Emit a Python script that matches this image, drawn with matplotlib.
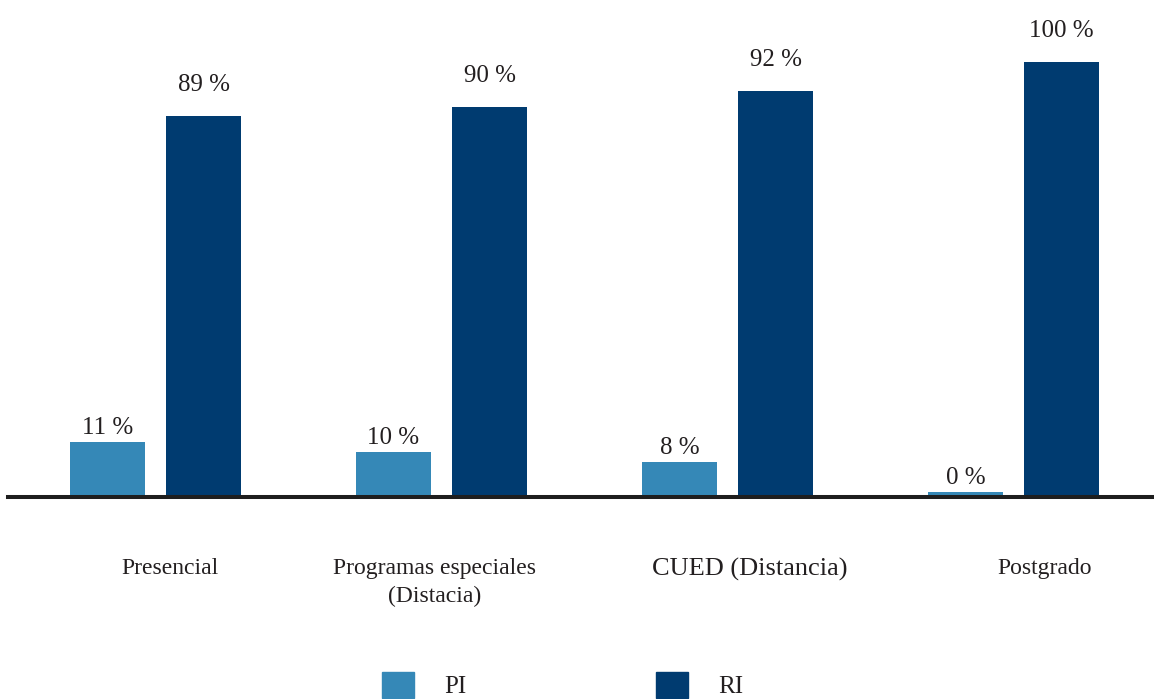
import matplotlib
matplotlib.use('Agg')
import matplotlib.pyplot as plt
from matplotlib.patches import Patch
import numpy as np

# Data
categories = ['Presencial', 'Programas especiales\n(Distacia)',
              'CUED (Distancia)', 'Postgrado']
pi_values = [12.6, 10.3, 8.0, 1.1]
ri_values = [87.6, 89.7, 93.3, 100.0]
pi_labels = ['11 %', '10 %', '8 %', '0 %']
ri_labels = ['89 %', '90 %', '92 %', '100 %']

PI_COLOR = '#3588b7'
RI_COLOR = '#003b70'
TEXT_COLOR = '#231f20'

plt.rcParams['font.family'] = ['Liberation Serif', 'DejaVu Serif']


def main():
    """Draw the grouped bar chart and save it to out.png."""
    fig = plt.figure(figsize=(11.54, 6.99), dpi=100)
    ax = fig.add_axes([8 / 1154, 202 / 699, 1 - 8 / 1154, 497 / 699])

    x = np.arange(len(categories))
    offset = 0.168
    width = 0.262

    bars_pi = ax.bar(x - offset, pi_values, width, color=PI_COLOR)
    bars_ri = ax.bar(x + offset, ri_values, width, color=RI_COLOR)

    # Value labels above the bars.
    for rect, lab in zip(bars_pi, pi_labels):
        ax.annotate(lab, (rect.get_x() + rect.get_width() / 2, rect.get_height()),
                    xytext=(0, 6), textcoords='offset points',
                    ha='center', va='baseline', fontsize=18, color=TEXT_COLOR)
    for rect, lab in zip(bars_ri, ri_labels):
        ax.annotate(lab, (rect.get_x() + rect.get_width() / 2, rect.get_height()),
                    xytext=(0, 18), textcoords='offset points',
                    ha='center', va='baseline', fontsize=18, color=TEXT_COLOR)

    ax.set_xlim(-0.516, 3.491)
    ax.set_ylim(0, 497 / 4.35)

    # Category labels sit a bit right of the group centres in the original.
    label_shift = [0.05, -0.023, 0.079, 0.107]
    ax.set_xticks(x + np.array(label_shift))
    ax.set_xticklabels(categories, fontsize=17, color=TEXT_COLOR,
                       linespacing=1.4)
    ax.tick_params(axis='x', length=0, pad=44)
    ax.get_xticklabels()[2].set_fontsize(19)
    ax.set_yticks([])

    for side in ['top', 'right', 'left']:
        ax.spines[side].set_visible(False)
    ax.spines['bottom'].set_linewidth(2.9)
    ax.spines['bottom'].set_color('#1e1e1e')

    handles = [Patch(color=PI_COLOR, label='PI'),
               Patch(color=RI_COLOR, label='RI')]
    fig.legend(handles=handles, loc='upper left',
               bbox_to_anchor=(381.5 / 1154, 27.5 / 699),
               ncol=2, frameon=False, fontsize=18, borderpad=0,
               borderaxespad=0, handlelength=1.28, handleheight=1.28,
               handletextpad=1.24, columnspacing=7.55, labelcolor=TEXT_COLOR)

    fig.savefig('out.png', dpi=100)


if __name__ == '__main__':
    main()
